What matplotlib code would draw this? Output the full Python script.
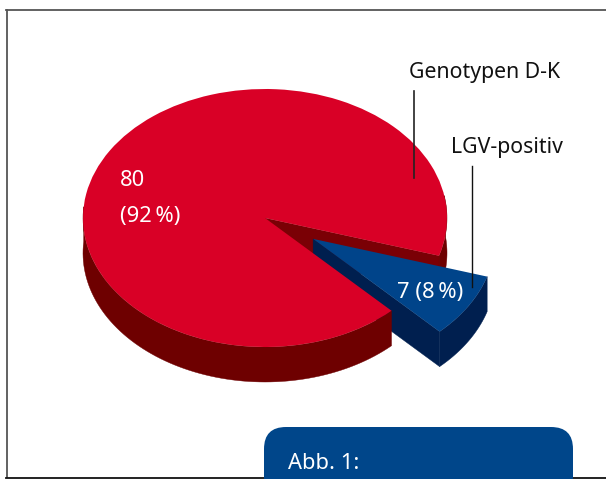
import numpy as np
import matplotlib
matplotlib.use("Agg")
import matplotlib.pyplot as plt
from matplotlib.patches import FancyBboxPatch

plt.rcParams["font.family"] = ["Noto Sans", "DejaVu Sans"]

# Data
labels = ["Genotypen D-K", "LGV-positiv"]
values = [80, 7]
value_texts = ["80\n(92\u2009%)", "7 (8\u2009%)"]
caption = "Abb. 1:"

# Layout (pixels)
W, H = 606, 479
CX, CY = 265, 218
RX, RY = 182, 129
DEPTH = 35 / RY
EXPLODE = [0, 0.31]
START_ANGLE = -17

RED_TOP = "#d90026"
RED_WALL = "#6e0000"
RED_INNER = "#7a0005"
BLUE_TOP = "#00448a"
BLUE_WALL = "#001f4f"
FS = 15.3
FS_VALUE = 15.8


def wall(ax, x0, y0, t1, t2, color, z):
    """Flanc extrudé d'un arc (t1 -> t2) en coords du camembert."""
    t = np.radians(np.linspace(t1, t2, 80))
    xs = x0 + np.cos(t)
    ys = y0 + np.sin(t)
    ax.fill(np.r_[xs, xs[::-1]], np.r_[ys, ys[::-1] - DEPTH],
            color=color, lw=0.3, zorder=z)


def radial_wall(ax, x0, y0, t, color, z):
    """Flanc radial, du centre de la part vers le bord."""
    a = np.radians(t)
    xe, ye = x0 + np.cos(a), y0 + np.sin(a)
    ax.fill([x0, xe, xe, x0], [y0, ye, ye - DEPTH, y0 - DEPTH],
            color=color, lw=0.3, zorder=z)


fig = plt.figure(figsize=(W / 100, H / 100), dpi=100)

# Camembert : cercle unité écrasé par les limites de l'axe
pax = fig.add_axes([0, 0, 1, 1])
wedges, _ = pax.pie(values, colors=[RED_TOP, BLUE_TOP], startangle=START_ANGLE,
                    explode=EXPLODE, radius=1, center=(0, 0),
                    wedgeprops={"linewidth": 0})
pax.set_aspect("auto")
pax.set_xlim(-CX / RX, (W - CX) / RX)
pax.set_ylim((CY - H) / RY, CY / RY)
pax.axis("off")

red, blue = wedges
rx0, ry0 = red.center
bx0, by0 = blue.center

# Flancs du rouge derrière la part bleue
radial_wall(pax, rx0, ry0, red.theta1, RED_INNER, 1)
wall(pax, rx0, ry0, red.theta1, 10, RED_WALL, 1)

# Part bleue
radial_wall(pax, bx0, by0, blue.theta1, BLUE_WALL, 2)
wall(pax, bx0, by0, blue.theta1, blue.theta2, BLUE_WALL, 2)
blue.set_zorder(3)

# Flanc avant du rouge puis dessus
wall(pax, rx0, ry0, 175, red.theta2, RED_WALL, 4)
red.set_zorder(5)

# Calque en pixels pour cadre, textes, traits
ax = fig.add_axes([0, 0, 1, 1])
ax.set_xlim(0, W)
ax.set_ylim(H, 0)
ax.axis("off")
ax.patch.set_alpha(0)

ax.plot([6.5, 6.5], [9.5, 477], color="#555555", lw=1.3, zorder=1)
ax.plot([6, W], [9.5, 9.5], color="#555555", lw=1.3, zorder=1)
ax.plot([6, W], [477.5, 477.5], color="#111111", lw=1.3, zorder=1)

ax.plot([414, 414], [91, 178], color="#222222", lw=1.2, zorder=2)
ax.plot([471.5, 471.5], [166, 287], color="#111111", lw=1.0, zorder=2)

ax.text(409, 72.5, labels[0], fontsize=FS, color="#111111", va="center", ha="left", zorder=3)
ax.text(451, 147.5, labels[1], fontsize=FS, color="#111111", va="center", ha="left", zorder=3)

big, small = value_texts[0].split("\n")
ax.text(120, 180.5, big, fontsize=FS_VALUE, color="white", va="center", ha="left", zorder=3)
ax.text(120, 216.5, small, fontsize=FS_VALUE, color="white", va="center", ha="left", zorder=3)
ax.text(397, 292.5, value_texts[1], fontsize=FS_VALUE, color="white", va="center", ha="left", zorder=3)

box = FancyBboxPatch((264, 427), 309, 90, boxstyle="round,pad=0,rounding_size=22",
                     fc="#00468a", ec="none", zorder=4)
ax.add_patch(box)
ax.text(288, 463.5, caption, fontsize=FS_VALUE, color="white", va="center", ha="left", zorder=5)

fig.savefig("out.png", dpi=100)
